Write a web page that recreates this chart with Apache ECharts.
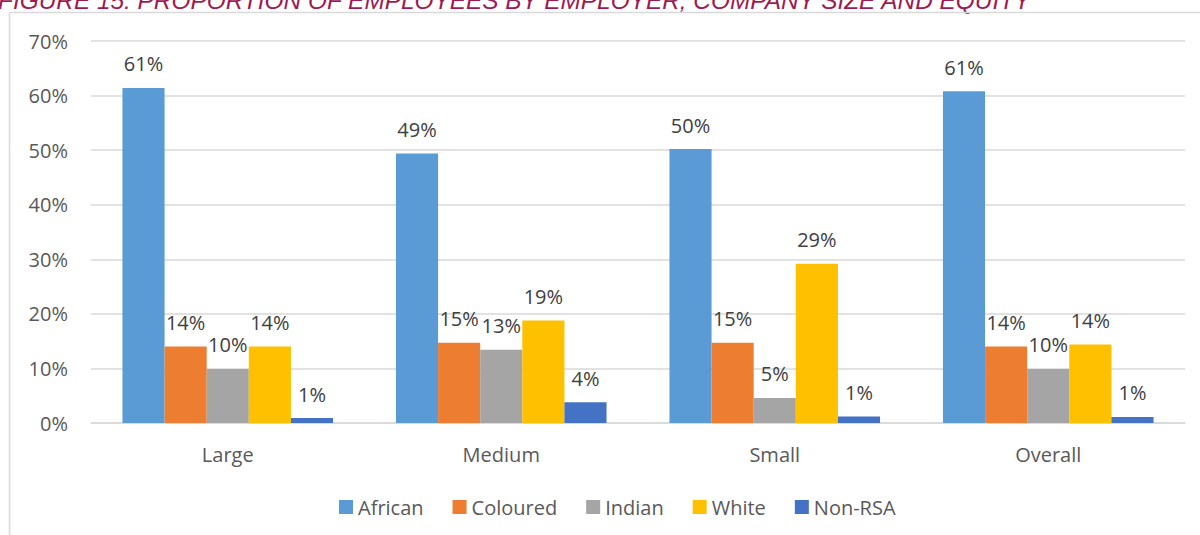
<!DOCTYPE html>
<html>
<head>
<meta charset="utf-8">
<script src="https://cdn.jsdelivr.net/npm/echarts@6/dist/echarts.min.js"></script>
<style>
  html, body { margin: 0; padding: 0; background: #ffffff; }
  #chart { width: 1200px; height: 535px; }
</style>
</head>
<body>
<div id="chart"></div>
<script>
// Share of employees by company size and population group (percent)
const categories = ['Large', 'Medium', 'Small', 'Overall'];
const seriesNames = ['African', 'Coloured', 'Indian', 'White', 'Non-RSA'];
const african  = [61.4, 49.4, 50.2, 60.8];
const coloured = [14.0, 14.7, 14.7, 14.0];
const indian   = [9.9, 13.4, 4.6, 9.9];
const white    = [14.0, 18.8, 29.2, 14.4];
const nonRsa   = [0.9, 3.8, 1.2, 1.1];
const yTicks   = [0, 10, 20, 30, 40, 50, 60, 70];
const titleText = 'FIGURE 15: PROPORTION OF EMPLOYEES BY EMPLOYER, COMPANY SIZE AND EQUITY';

const palette = ['#5B9BD5', '#ED7D31', '#A5A5A5', '#FFC000', '#4472C4'];
const values = [african, coloured, indian, white, nonRsa];
const FONT = '"Open Sans", "Noto Sans", sans-serif';

const chart = echarts.init(document.getElementById('chart'), null, { renderer: 'svg' });

chart.setOption({
  backgroundColor: '#ffffff',
  animation: false,
  textStyle: { fontFamily: FONT },
  graphic: [
    {
      type: 'text',
      x: -2, y: 0,
      silent: true,
      style: {
        text: titleText,
        fill: '#A01A52',
        font: 'italic 24.4px "Liberation Sans", Arial, sans-serif',
        verticalAlign: 'middle',
        align: 'left'
      }
    },
    {
      type: 'line', silent: true,
      shape: { x1: 9.5, y1: 12.5, x2: 1200, y2: 12.5 },
      style: { stroke: '#D9D9D9', lineWidth: 1.5 }
    },
    {
      type: 'line', silent: true,
      shape: { x1: 9.5, y1: 12.5, x2: 9.5, y2: 535 },
      style: { stroke: '#D9D9D9', lineWidth: 1.5 }
    }
  ],
  color: palette,
  legend: {
    data: seriesNames,
    left: 334,
    top: 492,
    icon: 'rect',
    itemWidth: 14,
    itemHeight: 14,
    itemGap: 29,
    textStyle: { color: '#595959', fontSize: 20, fontFamily: FONT }
  },
  grid: { left: 91, right: 15, top: 41, bottom: 112, containLabel: false },
  xAxis: {
    type: 'category',
    data: categories,
    axisTick: { show: false },
    axisLine: { lineStyle: { color: '#D9D9D9', width: 1.5 } },
    axisLabel: { color: '#595959', fontSize: 20, margin: 21, fontFamily: FONT }
  },
  yAxis: {
    type: 'value',
    min: yTicks[0],
    max: yTicks[yTicks.length - 1],
    interval: 10,
    axisLine: { show: false },
    axisTick: { show: false },
    splitLine: { lineStyle: { color: '#D9D9D9', width: 1.5 } },
    axisLabel: { color: '#595959', fontSize: 20, margin: 23, fontFamily: FONT, formatter: '{value}%' }
  },
  series: seriesNames.map((name, i) => ({
    name: name,
    type: 'bar',
    data: values[i],
    barGap: '0%',
    barCategoryGap: '23%',
    itemStyle: { color: palette[i] },
    label: {
      show: true,
      position: 'top',
      distance: 14,
      color: '#404040',
      fontSize: 20,
      fontFamily: FONT,
      formatter: p => Math.round(p.value) + '%'
    }
  }))
});
</script>
</body>
</html>
